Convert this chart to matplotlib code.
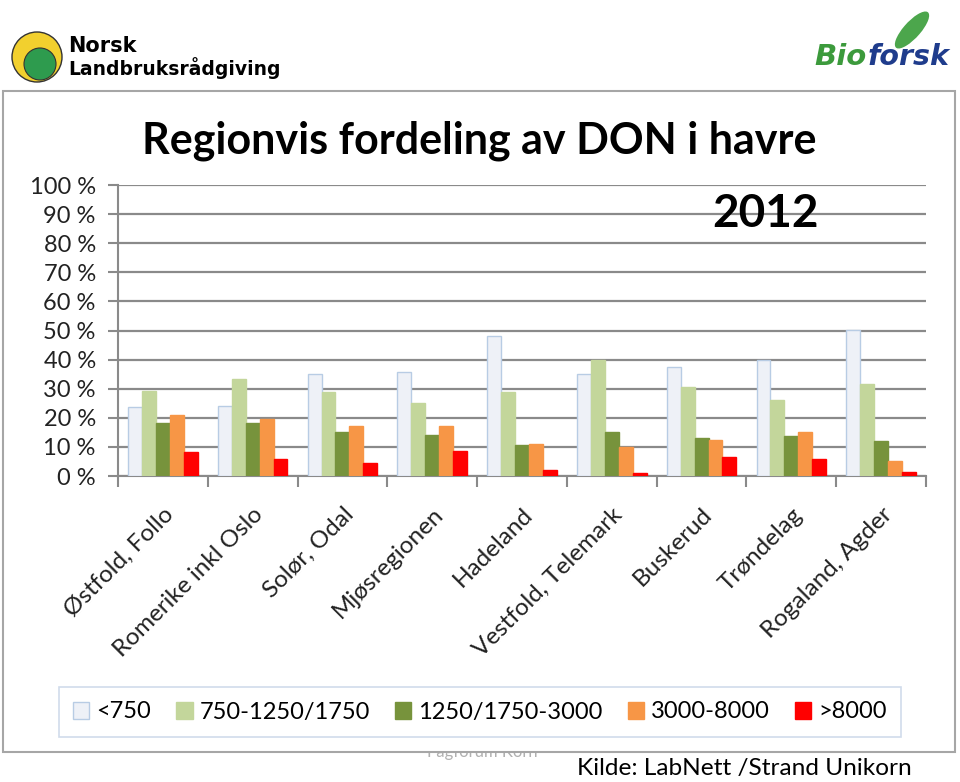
import matplotlib.pyplot as plt
import numpy as np
from matplotlib.patches import Rectangle, Ellipse

regioner = ['Østfold, Follo', 'Romerike inkl Oslo', 'Solør, Odal', 'Mjøsregionen',
            'Hadeland', 'Vestfold, Telemark', 'Buskerud', 'Trøndelag', 'Rogaland, Agder']
klasser = ['<750', '750-1250/1750', '1250/1750-3000', '3000-8000', '>8000']

# andel prøver (%) per DON-klasse
under_750 = [23.6, 24.0, 35.0, 35.8, 48.0, 35.0, 37.6, 40.0, 50.2]
k750_1250 = [29.2, 33.4, 28.8, 25.0, 29.0, 39.9, 30.6, 26.2, 31.6]
k1250_3000 = [18.3, 18.2, 15.1, 14.0, 10.5, 15.1, 13.1, 13.6, 12.1]
k3000_8000 = [21.1, 19.5, 17.2, 17.1, 10.9, 9.9, 12.5, 15.1, 5.3]
over_8000 = [8.4, 5.7, 4.4, 8.5, 2.1, 1.0, 6.6, 5.8, 1.3]

serier = [under_750, k750_1250, k1250_3000, k3000_8000, over_8000]
farger = ['#EEF1F7', '#C3D69B', '#77933C', '#F79646', '#FF0000']
kanter = ['#B8CCE4', '#C3D69B', '#77933C', '#F79646', '#FF0000']

fnt = 'Lato'

fig = plt.figure(figsize=(9.6, 7.82), dpi=100)

# ramme rundt diagrammet
fig.patches.append(Rectangle((3 / 960, 1 - 752 / 782), 952 / 960, 661 / 782,
                             transform=fig.transFigure, facecolor='white',
                             edgecolor='#a6a6a6', lw=1.5, zorder=-1))

ax = fig.add_axes([118 / 960, 1 - 476 / 782, 808 / 960, 291 / 782])
ax.set_facecolor('none')

x = np.arange(len(regioner))
bredde = 0.155
for i, (verdier, farge, kant) in enumerate(zip(serier, farger, kanter)):
    ax.bar(x + (i - 2) * bredde, np.array(verdier), bredde, color=farge,
           edgecolor=kant, linewidth=1, label=klasser[i], zorder=3)

ax.set_ylim(0, 100)
ax.set_xlim(-0.5, len(regioner) - 0.5)
ax.set_yticks(np.arange(0, 101, 10))
ax.set_yticklabels([f'{v} %' for v in range(0, 101, 10)], fontsize=17, family=fnt, color='#222222')
ax.yaxis.grid(True, color='#8a8a8a', lw=1.6, zorder=0)
ax.tick_params(axis='y', length=7, color='#8a8a8a', width=1.5, pad=9)

ax.set_xticks(x)
ax.set_xticklabels(regioner, rotation=45, ha='right', va='top', rotation_mode='anchor',
                   fontsize=17.5, family=fnt, color='#222222')
ax.set_xticks(np.arange(-0.5, len(regioner), 1), minor=True)
ax.tick_params(axis='x', which='major', length=0, pad=20)
ax.tick_params(axis='x', which='minor', length=8, color='#8a8a8a', width=1.5)

for s in ['top', 'right']:
    ax.spines[s].set_visible(False)
ax.spines['left'].set_color('#8a8a8a')
ax.spines['left'].set_linewidth(1.5)
ax.spines['bottom'].set_color('#8a8a8a')
ax.spines['bottom'].set_linewidth(1.5)

fig.text(479 / 960, 1 - 141 / 782, 'Regionvis fordeling av DON i havre', ha='center', va='center',
         fontsize=31, fontweight='bold', family=fnt)
fig.text(766 / 960, 1 - 214 / 782, '2012', ha='center', va='center',
         fontsize=33, fontweight='bold', family=fnt)

leg = fig.legend(loc='center', bbox_to_anchor=(480 / 960, 1 - 712 / 782), ncol=5,
                 prop={'family': fnt, 'size': 17}, frameon=True, fancybox=False,
                 handlelength=0.7, handleheight=0.7, handletextpad=0.3,
                 columnspacing=1.05, borderpad=0.6, borderaxespad=0, edgecolor='#C5D3E6')
leg.get_frame().set_linewidth(1.2)

# logoer
fig.patches.append(Ellipse((37 / 960, 1 - 57 / 782), 50 / 960, 50 / 782, transform=fig.transFigure,
                           facecolor='#F2D02E', edgecolor='#333333', lw=1))
fig.patches.append(Ellipse((40 / 960, 1 - 64 / 782), 32 / 960, 32 / 782, transform=fig.transFigure,
                           facecolor='#2E9B4E', edgecolor='#333333', lw=0.8))
fig.text(68 / 960, 1 - 46 / 782, 'Norsk', fontsize=15, fontweight='bold', family='DejaVu Sans',
         va='center', ha='left')
fig.text(68 / 960, 1 - 68 / 782, 'Landbruksrådgiving', fontsize=13.5, fontweight='bold',
         family='DejaVu Sans', va='center', ha='left')

fig.patches.append(Ellipse((912 / 960, 1 - 30 / 782), 18 / 960, 44 / 782, angle=-35,
                           transform=fig.transFigure, facecolor='#4CA64C', edgecolor='none'))
fig.text(814 / 960, 1 - 57 / 782, 'Bio', fontsize=21, fontweight='bold', style='italic',
         family='DejaVu Sans', color='#3C9A3C', va='center', ha='left')
fig.text(868 / 960, 1 - 57 / 782, 'forsk', fontsize=20.5, fontweight='bold', style='italic',
         family='DejaVu Sans', color='#1F3C8C', va='center', ha='left')

fig.text(482 / 960, 1 - 752 / 782, 'Fagforum Korn', fontsize=12, color='#b0b0b0',
         family=fnt, ha='center', va='center', zorder=-2)
fig.text(912 / 960, 1 - 769 / 782, 'Kilde: LabNett /Strand Unikorn', fontsize=17.6,
         family=fnt, ha='right', va='center')

fig.savefig('out.png', dpi=100)
plt.close(fig)
